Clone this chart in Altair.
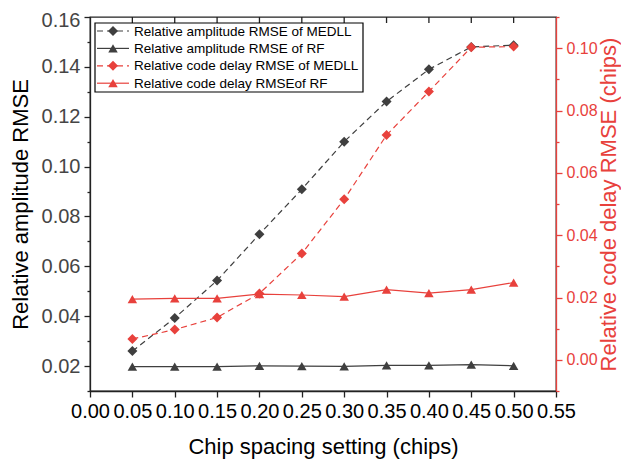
import altair as alt
import pandas as pd

# ---- data ----
spacing = [0.05, 0.10, 0.15, 0.20, 0.25, 0.30, 0.35, 0.40, 0.45, 0.50]
amp_medll = [0.0260, 0.0393, 0.0543, 0.0729, 0.0909, 0.1100, 0.1261, 0.1390, 0.1480, 0.1487]
amp_rf = [0.0198, 0.0198, 0.0198, 0.0201, 0.0200, 0.0199, 0.0203, 0.0203, 0.0206, 0.0201]
cd_medll = [0.0067, 0.0097, 0.0136, 0.0213, 0.0341, 0.0515, 0.0721, 0.0861, 0.1003, 0.1005]
cd_rf = [0.0195, 0.0197, 0.0197, 0.0211, 0.0208, 0.0203, 0.0225, 0.0214, 0.0225, 0.0248]

series_names = [
    "Relative amplitude RMSE of MEDLL",
    "Relative amplitude RMSE of RF",
    "Relative code delay RMSE of MEDLL",
    "Relative code delay RMSEof RF",
]

x_ticks = [0.00, 0.05, 0.10, 0.15, 0.20, 0.25, 0.30, 0.35, 0.40, 0.45, 0.50, 0.55]
left_ticks = [0.01, 0.02, 0.03, 0.04, 0.05, 0.06, 0.07, 0.08, 0.09, 0.10,
              0.11, 0.12, 0.13, 0.14, 0.15, 0.16]
right_ticks = [-0.01, 0.00, 0.01, 0.02, 0.03, 0.04, 0.05, 0.06, 0.07, 0.08,
               0.09, 0.10, 0.11]

GRAY = "#3f3f3f"
RED = "#E8413C"
FONT = "Liberation Sans"

df = pd.DataFrame({
    "spacing": spacing,
    "amp_medll": amp_medll,
    "amp_rf": amp_rf,
    "cd_medll": cd_medll,
    "cd_rf": cd_rf,
})

x_axis = alt.Axis(
    values=x_ticks, format=".2f", title="Chip spacing setting (chips)",
    labelFontSize=20, titleFontSize=22, labelColor="black", titleColor="black",
    domainColor="#222", tickColor="#222", tickSize=6, labelPadding=4,
    titlePadding=15, labelFlush=False, labelOverlap=False, grid=False,
    domainWidth=1.3, tickWidth=1.3,
)
x_enc = alt.X("spacing:Q", scale=alt.Scale(domain=[0, 0.55], nice=False, zero=False), axis=x_axis)

minor_test_l = "abs(round(datum.value*100)) % 2 == 1"
left_axis = alt.Axis(
    values=left_ticks, orient="left",
    labelExpr=minor_test_l + " ? '' : format(datum.value, '.2f')",
    tickSize={"condition": {"test": minor_test_l, "value": 3}, "value": 6},
    labelOffset={"condition": {"test": "datum.value > 0.155", "value": 3}, "value": 0},
    title="Relative amplitude RMSE", labelFontSize=20, titleFontSize=22,
    labelColor="#454545", titleColor="black", domainColor="#222", tickColor="#222",
    labelPadding=4, titlePadding=9, labelFlush=False, labelOverlap=False, grid=False,
    domainWidth=1.3, tickWidth=1.3,
)
right_axis = alt.Axis(
    values=right_ticks, orient="right",
    labelExpr=minor_test_l + " ? '' : format(datum.value, '.2f')",
    tickSize={"condition": {"test": minor_test_l, "value": 3}, "value": 6},
    title="Relative code delay RMSE (chips)", labelFontSize=16, titleFontSize=22,
    labelColor=RED, titleColor=RED, domainColor=RED, tickColor=RED,
    titleAngle=270, titleBaseline="top",
    labelPadding=4, titlePadding=1, labelFlush=False, labelOverlap=False, grid=False,
    domainWidth=1.3, tickWidth=1.3,
)
left_scale = alt.Scale(domain=[0.01, 0.16], nice=False, zero=False)
right_scale = alt.Scale(domain=[-0.01, 0.11], nice=False, zero=False)

base = alt.Chart(df)
DASH = [6, 4]
SZ_D = 100
SZ_T = 90


def series(field, scale, axis, color, dashed, shape, size):
    y = alt.Y(f"{field}:Q", scale=scale, axis=axis)
    line_kw = dict(color=color, strokeWidth=1.2)
    if dashed:
        line_kw["strokeDash"] = DASH
    line = base.mark_line(**line_kw).encode(x=x_enc, y=y)
    pts = base.mark_point(shape=shape, filled=True, color=color, size=size, opacity=1).encode(x=x_enc, y=y)
    return [line, pts]


left = alt.layer(
    *series("amp_medll", left_scale, left_axis, GRAY, True, "diamond", SZ_D),
    *series("amp_rf", left_scale, left_axis, GRAY, False, "triangle-up", SZ_T),
)
right = alt.layer(
    *series("cd_medll", right_scale, right_axis, RED, True, "diamond", SZ_D),
    *series("cd_rf", right_scale, right_axis, RED, False, "triangle-up", SZ_T),
)

# inward ticks on top frame
top_df = pd.DataFrame({"spacing": x_ticks[1:-1]})
top_ticks = alt.Chart(top_df).mark_rule(color="#222", strokeWidth=1.3).encode(
    x=x_enc, y=alt.value(0), y2=alt.value(6)
)

# legend (drawn as marks)
leg_styles = [
    (GRAY, True, "diamond"),
    (GRAY, False, "triangle-up"),
    (RED, True, "diamond"),
    (RED, False, "triangle-up"),
]
leg_layers = [
    alt.Chart(pd.DataFrame({"a": [0]})).mark_rect(
        fill="white", stroke="black", strokeWidth=1.2
    ).encode(x=alt.value(5), x2=alt.value(273), y=alt.value(6), y2=alt.value(75))
]
row_y0, row_dy = 14, 17.4
for i, (name, (col, dashed, shp)) in enumerate(zip(series_names, leg_styles)):
    ly = row_y0 + i * row_dy
    ldf = pd.DataFrame({"label": [name]})
    kw = dict(color=col, strokeWidth=1.2)
    if dashed:
        kw["strokeDash"] = DASH
    leg_layers.append(alt.Chart(ldf).mark_rule(**kw).encode(
        x=alt.value(7), x2=alt.value(39), y=alt.value(ly)))
    leg_layers.append(alt.Chart(ldf).mark_point(
        shape=shp, filled=True, color=col, opacity=1,
        size=SZ_D if shp == "diamond" else SZ_T).encode(
        x=alt.value(23), y=alt.value(ly)))
    leg_layers.append(alt.Chart(ldf).mark_text(
        align="left", baseline="middle", fontSize=13.5, font=FONT, color="black").encode(
        x=alt.value(44), y=alt.value(ly + 0.5), text="label:N"))
legend = alt.layer(*leg_layers)

chart = alt.layer(left, right, top_ticks, legend).resolve_scale(y="independent").properties(
    width=466, height=374,
    padding={"left": 82, "top": 9, "right": 65, "bottom": 68},
    autosize=alt.AutoSizeParams(type="none"),
).configure_view(
    stroke="#222", strokeWidth=1.3
).configure_axis(
    labelFont=FONT, titleFont=FONT, titleFontWeight="normal"
).configure_text(font=FONT)

chart.save("out.html", embed_options={"renderer": "svg", "actions": False})
